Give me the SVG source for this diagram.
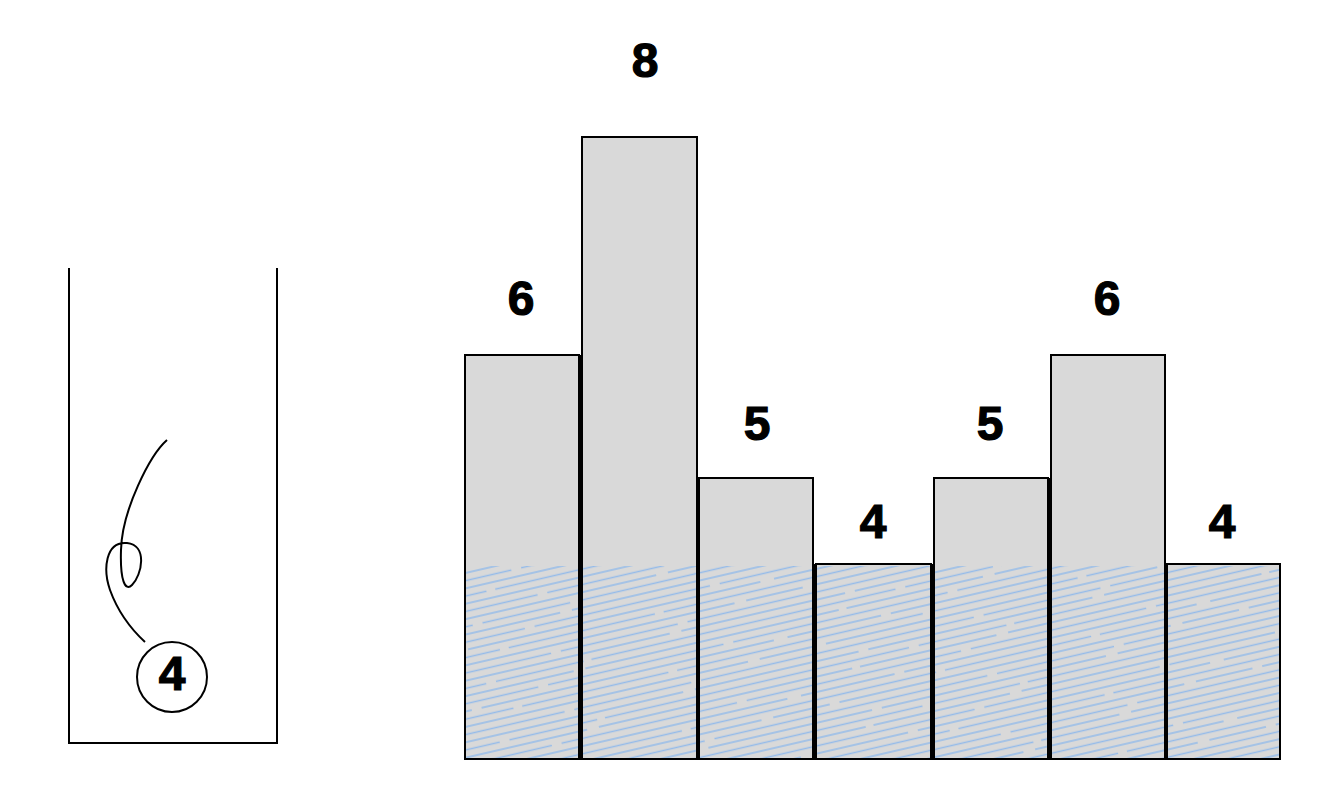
<svg xmlns="http://www.w3.org/2000/svg" width="1334" height="808" viewBox="0 0 1334 808">
<style>
.bar{fill:#d9d9d9;stroke:#000;stroke-width:2}
.ol{fill:none;stroke:#000;stroke-width:2}
.gap{fill:#000}
.lbl{font-family:"Liberation Sans",Arial,sans-serif;font-weight:bold;font-size:48px;text-anchor:middle;fill:#000;stroke:#000;stroke-width:1.2}
.ln{stroke:#000;stroke-width:2;fill:none}
.h{stroke:#94bbea;stroke-width:1.3;fill:none}
</style>
<defs>
<pattern id="hatch" patternUnits="userSpaceOnUse" width="420" height="60" patternTransform="rotate(-13)">
<line class="h" x1="0" y1="3" x2="420" y2="3" stroke-dasharray="260 8 140 12"/>
<line class="h" x1="0" y1="10.5" x2="420" y2="10.5" stroke-dasharray="180 10 220 10" stroke-dashoffset="40"/>
<line class="h" x1="0" y1="18" x2="420" y2="18" stroke-dasharray="300 14 96 10" stroke-dashoffset="110"/>
<line class="h" x1="0" y1="25.5" x2="420" y2="25.5" stroke-dasharray="150 9 252 9" stroke-dashoffset="70"/>
<line class="h" x1="0" y1="33" x2="420" y2="33" stroke-dasharray="340 12 58 10" stroke-dashoffset="180"/>
<line class="h" x1="0" y1="40.5" x2="420" y2="40.5" stroke-dasharray="120 10 280 10" stroke-dashoffset="20"/>
<line class="h" x1="0" y1="48" x2="420" y2="48" stroke-dasharray="230 12 168 10" stroke-dashoffset="140"/>
<line class="h" x1="0" y1="55.5" x2="420" y2="55.5" stroke-dasharray="90 8 312 10" stroke-dashoffset="90"/>
</pattern>
<clipPath id="wclip"><rect x="466" y="566" width="814" height="194"/></clipPath>
</defs>
<g id="cup">
<path class="ln" d="M69,268 V743 H277 V268"/>
</g>
<g id="ball">
<circle class="ln" cx="172" cy="677" r="35"/>
<text class="lbl" x="172" y="690">4</text>
</g>
<g id="connectors">
<path class="ln" d="M167,440 C150,455 122,510 121,550 C120,580 125,592 132,585 C142,575 148,545 127,543 C105,541 103,570 110,590 C118,612 132,630 145,642"/>
</g>
<g id="bar1"><rect class="bar" x="465" y="355" width="114" height="404"/><text class="lbl" x="521" y="315">6</text></g>
<g id="bar2"><rect class="bar" x="582" y="137" width="115" height="622"/><text class="lbl" x="645" y="77">8</text></g>
<g id="bar3"><rect class="bar" x="699" y="478" width="114" height="281"/><text class="lbl" x="757" y="440">5</text></g>
<g id="bar4"><rect class="bar" x="816" y="564" width="115" height="195"/><text class="lbl" x="873" y="538">4</text></g>
<g id="bar5"><rect class="bar" x="934" y="478" width="114" height="281"/><text class="lbl" x="990" y="440">5</text></g>
<g id="bar6"><rect class="bar" x="1051" y="355" width="114" height="404"/><text class="lbl" x="1107" y="315">6</text></g>
<g id="bar7"><rect class="bar" x="1167" y="564" width="113" height="195"/><text class="lbl" x="1222" y="538">4</text></g>
<g id="water">
<rect x="462" y="560" width="822" height="204" fill="url(#hatch)" clip-path="url(#wclip)"/>
</g>
<g id="outlines">
<rect class="ol" x="465" y="355" width="114" height="404"/>
<rect class="ol" x="582" y="137" width="115" height="622"/>
<rect class="ol" x="699" y="478" width="114" height="281"/>
<rect class="ol" x="816" y="564" width="115" height="195"/>
<rect class="ol" x="934" y="478" width="114" height="281"/>
<rect class="ol" x="1051" y="355" width="114" height="404"/>
<rect class="ol" x="1167" y="564" width="113" height="195"/>
<rect class="gap" x="578" y="355" width="5" height="405"/>
<rect class="gap" x="696" y="478" width="4" height="282"/>
<rect class="gap" x="812" y="564" width="5" height="196"/>
<rect class="gap" x="930" y="564" width="5" height="196"/>
<rect class="gap" x="1047" y="478" width="5" height="282"/>
<rect class="gap" x="1164" y="564" width="4" height="196"/>
</g>
</svg>
